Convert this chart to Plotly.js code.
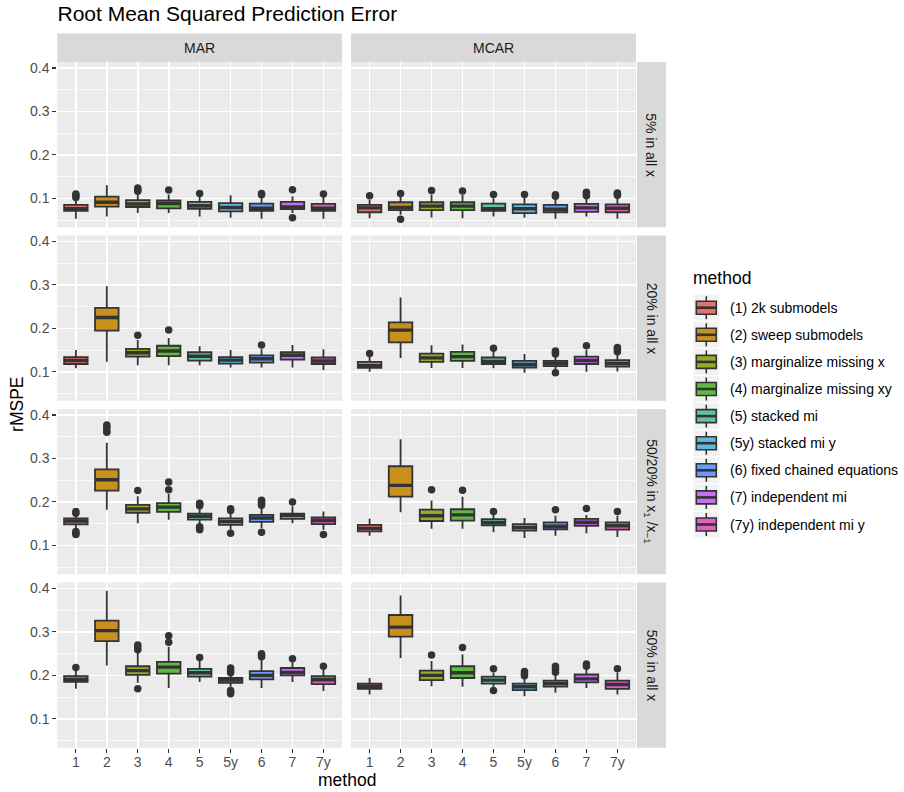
<!DOCTYPE html>
<html>
<head>
<meta charset="utf-8">
<script src="https://cdn.plot.ly/plotly-3.0.1.min.js"></script>
<style>
  html, body { margin: 0; padding: 0; background: #fff; }
  #chart { width: 904px; height: 792px; }
</style>
</head>
<body>
<div id="chart"></div>
<script>
// ---- data -------------------------------------------------------------
const methods = ['1', '2', '3', '4', '5', '5y', '6', '7', '7y'];
const methodNames = [
  '(1) 2k submodels', '(2) sweep submodels', '(3) marginalize missing x',
  '(4) marginalize missing xy', '(5) stacked mi', '(5y) stacked mi y',
  '(6) fixed chained equations', '(7) independent mi', '(7y) independent mi y'
];
const methodColors = ['#E2736C', '#C8901F', '#9AAA28', '#60B942', '#64C2A2',
                      '#5FB9E1', '#6A9AFA', '#C76DF1', '#E261C0'];
const mechanisms = ['MAR', 'MCAR'];
const scenarios = ['5% in all x', '20% in all x',
                   '50/20% in x<sub>1</sub> /x<sub>\u22121</sub>', '50% in all x'];

// Box statistics, one row per panel (scenario x mechanism, row-major:
// 5% MAR, 5% MCAR, 20% MAR, 20% MCAR, 50/20% MAR, 50/20% MCAR, 50% MAR, 50% MCAR),
// one column per method.
const lowerWhisker = [
  [0.053, 0.058, 0.066, 0.066, 0.058, 0.055, 0.053, 0.066, 0.053],
  [0.054, 0.062, 0.056, 0.054, 0.058, 0.055, 0.053, 0.058, 0.053],
  [0.108, 0.123, 0.115, 0.115, 0.115, 0.110, 0.110, 0.110, 0.104],
  [0.100, 0.132, 0.109, 0.109, 0.108, 0.098, 0.105, 0.100, 0.101],
  [0.140, 0.182, 0.151, 0.159, 0.150, 0.136, 0.140, 0.151, 0.136],
  [0.122, 0.176, 0.138, 0.138, 0.130, 0.117, 0.122, 0.128, 0.119],
  [0.169, 0.223, 0.183, 0.171, 0.185, 0.174, 0.171, 0.185, 0.164],
  [0.156, 0.240, 0.175, 0.174, 0.174, 0.152, 0.160, 0.171, 0.156]
];
const quartile1 = [
  [0.071, 0.081, 0.080, 0.077, 0.076, 0.070, 0.071, 0.075, 0.071],
  [0.068, 0.073, 0.073, 0.073, 0.071, 0.066, 0.068, 0.069, 0.068],
  [0.118, 0.195, 0.135, 0.136, 0.126, 0.119, 0.121, 0.128, 0.118],
  [0.109, 0.168, 0.123, 0.125, 0.118, 0.110, 0.113, 0.118, 0.112],
  [0.148, 0.226, 0.175, 0.177, 0.159, 0.147, 0.154, 0.161, 0.149],
  [0.132, 0.212, 0.156, 0.157, 0.146, 0.134, 0.137, 0.145, 0.136],
  [0.185, 0.279, 0.201, 0.204, 0.197, 0.183, 0.191, 0.200, 0.180],
  [0.169, 0.289, 0.189, 0.194, 0.181, 0.166, 0.174, 0.184, 0.169]
];
const medians = [
  [0.076, 0.091, 0.087, 0.088, 0.083, 0.079, 0.077, 0.080, 0.077],
  [0.078, 0.079, 0.082, 0.082, 0.076, 0.076, 0.075, 0.078, 0.077],
  [0.126, 0.225, 0.144, 0.148, 0.136, 0.127, 0.130, 0.138, 0.125],
  [0.114, 0.196, 0.132, 0.135, 0.124, 0.117, 0.119, 0.126, 0.119],
  [0.156, 0.251, 0.184, 0.188, 0.167, 0.155, 0.163, 0.169, 0.157],
  [0.139, 0.238, 0.168, 0.170, 0.152, 0.141, 0.144, 0.153, 0.145],
  [0.190, 0.303, 0.211, 0.219, 0.206, 0.189, 0.200, 0.207, 0.190],
  [0.175, 0.311, 0.200, 0.206, 0.189, 0.174, 0.181, 0.192, 0.179]
];
const quartile3 = [
  [0.085, 0.104, 0.096, 0.095, 0.092, 0.089, 0.088, 0.092, 0.087],
  [0.085, 0.091, 0.091, 0.091, 0.088, 0.086, 0.085, 0.087, 0.086],
  [0.134, 0.247, 0.153, 0.160, 0.145, 0.134, 0.138, 0.145, 0.133],
  [0.123, 0.214, 0.142, 0.146, 0.133, 0.125, 0.125, 0.135, 0.127],
  [0.162, 0.275, 0.193, 0.197, 0.173, 0.162, 0.170, 0.173, 0.164],
  [0.147, 0.282, 0.182, 0.183, 0.160, 0.149, 0.153, 0.161, 0.153],
  [0.198, 0.326, 0.221, 0.231, 0.215, 0.194, 0.210, 0.217, 0.198],
  [0.181, 0.339, 0.211, 0.221, 0.197, 0.181, 0.188, 0.202, 0.188]
];
const upperWhisker = [
  [0.098, 0.130, 0.108, 0.109, 0.104, 0.107, 0.103, 0.105, 0.103],
  [0.097, 0.104, 0.109, 0.108, 0.100, 0.102, 0.100, 0.100, 0.101],
  [0.150, 0.297, 0.173, 0.178, 0.159, 0.150, 0.152, 0.162, 0.152],
  [0.135, 0.271, 0.161, 0.163, 0.146, 0.141, 0.136, 0.150, 0.140],
  [0.170, 0.336, 0.213, 0.218, 0.186, 0.176, 0.186, 0.190, 0.178],
  [0.161, 0.344, 0.203, 0.212, 0.170, 0.163, 0.168, 0.170, 0.168],
  [0.210, 0.395, 0.252, 0.266, 0.233, 0.203, 0.236, 0.230, 0.214],
  [0.194, 0.384, 0.233, 0.248, 0.206, 0.195, 0.200, 0.214, 0.206]
];
const outliers = [
  [[0.102, 0.106, 0.110], [], [0.116, 0.120, 0.124], [0.119], [0.111], [], [0.108, 0.111], [0.120, 0.055], [0.110]],
  [[0.106], [0.111, 0.052], [0.118], [0.117], [0.109], [0.109], [0.105, 0.108], [0.106, 0.110, 0.114], [0.107, 0.110, 0.112]],
  [[], [], [0.184], [0.196], [], [], [0.162], [], []],
  [[0.142], [], [], [], [0.154], [], [0.141, 0.145, 0.148, 0.098], [0.160], [0.146, 0.151, 0.156]],
  [[0.178, 0.174, 0.128, 0.125, 0.132], [0.360, 0.365, 0.372, 0.377], [0.226], [0.228, 0.246],
   [0.191, 0.195, 0.197, 0.136, 0.140, 0.143], [0.180, 0.184, 0.128], [0.192, 0.197, 0.201, 0.204, 0.130], [0.200], [0.125]],
  [[], [], [0.228], [0.227], [0.178], [], [0.182], [0.185], [0.178]],
  [[0.218], [], [0.259, 0.264, 0.270, 0.169], [0.276, 0.291], [0.241],
   [0.206, 0.211, 0.217, 0.158, 0.162, 0.165], [0.243, 0.247, 0.250], [0.238], [0.221]],
  [[], [], [0.247], [0.264], [0.215, 0.165], [0.199, 0.204, 0.209], [0.207, 0.214, 0.221], [0.221, 0.226], [0.215]]
];
const yTicks = [0.1, 0.2, 0.3, 0.4];

// ---- layout geometry (pixels) ----------------------------------------
const W = 904, H = 792;
const px = v => v / W;
const py = v => 1 - v / H;
const colX = [[57.3, 342.0], [351.0, 636.0]];
const rowY = [[62.0, 227.3], [235.5, 400.8], [409.0, 574.3], [582.5, 747.8]];
const stripTop = 33.5, stripRightX = [637.0, 666.0];
const boxWidth = 0.76;
const darkLine = '#333333';
const fontFamily = 'Liberation Sans, Arial, Helvetica, sans-serif';

const traces = [];
const layout = {
  width: W, height: H,
  margin: { l: 0, r: 0, t: 0, b: 0 },
  paper_bgcolor: '#FFFFFF',
  plot_bgcolor: '#EBEBEB',
  showlegend: false,
  font: { family: fontFamily, color: '#000000' },
  title: {
    text: 'Root Mean Squared Prediction Error',
    font: { size: 21, color: '#000000', family: fontFamily },
    x: px(57.5), xanchor: 'left', xref: 'paper',
    y: py(14), yanchor: 'middle', yref: 'container'
  },
  shapes: [],
  annotations: []
};

for (let r = 0; r < 4; r++) {
  for (let c = 0; c < 2; c++) {
    const p = r * 2 + c;
    const n = p + 1;
    const xa = 'x' + (n === 1 ? '' : n);
    const ya = 'y' + (n === 1 ? '' : n);
    const xIdx = methods.map((m, i) => i);

    layout['xaxis' + (n === 1 ? '' : n)] = {
      domain: [px(colX[c][0]), px(colX[c][1])],
      anchor: ya,
      range: [-0.6, methods.length - 0.4],
      tickvals: xIdx,
      ticktext: methods,
      showticklabels: r === 3,
      ticks: r === 3 ? 'outside' : '',
      ticklen: 4, tickwidth: 1.1, tickcolor: darkLine,
      ticklabelstandoff: -3,
      tickfont: { size: 14, color: '#4D4D4D', family: fontFamily },
      showgrid: true, gridcolor: '#FFFFFF', gridwidth: 1.6,
      zeroline: false, showline: false, fixedrange: true
    };
    layout['yaxis' + (n === 1 ? '' : n)] = {
      domain: [py(rowY[r][1]), py(rowY[r][0])],
      anchor: xa,
      range: [0.0333, 0.4138],
      tickvals: yTicks,
      ticktext: yTicks.map(v => v.toFixed(1)),
      showticklabels: c === 0,
      ticks: c === 0 ? 'outside' : '',
      ticklen: 4, tickwidth: 1.1, tickcolor: darkLine,
      tickfont: { size: 14, color: '#4D4D4D', family: fontFamily },
      showgrid: true, gridcolor: '#FFFFFF', gridwidth: 1.6,
      minor: { tickvals: [0.05, 0.15, 0.25, 0.35], showgrid: true, gridcolor: '#FFFFFF', gridwidth: 0.7, ticks: '' },
      zeroline: false, showline: false, fixedrange: true
    };

    // boxes
    methods.forEach((m, i) => {
      traces.push({
        type: 'box', xaxis: xa, yaxis: ya,
        x: [i],
        q1: [quartile1[p][i]], median: [medians[p][i]], q3: [quartile3[p][i]],
        lowerfence: [lowerWhisker[p][i]], upperfence: [upperWhisker[p][i]],
        width: boxWidth, whiskerwidth: 0, boxpoints: false,
        fillcolor: methodColors[i],
        line: { color: darkLine, width: 1.8 },
        name: methodNames[i], showlegend: false, hoverinfo: 'skip'
      });
    });

    // thicker median bars drawn over the boxes
    const mx = [], my = [];
    methods.forEach((m, i) => {
      mx.push(i - boxWidth / 2, i + boxWidth / 2, null);
      my.push(medians[p][i], medians[p][i], null);
    });
    traces.push({
      type: 'scatter', mode: 'lines', xaxis: xa, yaxis: ya,
      x: mx, y: my, line: { color: darkLine, width: 3.4 },
      showlegend: false, hoverinfo: 'skip'
    });

    // outlying points
    const ox = [], oy = [];
    outliers[p].forEach((vals, i) => vals.forEach(v => { ox.push(i); oy.push(v); }));
    traces.push({
      type: 'scatter', mode: 'markers', xaxis: xa, yaxis: ya,
      x: ox, y: oy,
      marker: { color: darkLine, size: 7.5 },
      showlegend: false, hoverinfo: 'skip', cliponaxis: false
    });
  }
}

// facet strips
mechanisms.forEach((label, c) => {
  layout.shapes.push({
    type: 'rect', xref: 'paper', yref: 'paper', layer: 'below',
    x0: px(colX[c][0]), x1: px(colX[c][1]), y0: py(rowY[0][0]), y1: py(stripTop),
    fillcolor: '#D9D9D9', line: { width: 0 }
  });
  layout.annotations.push({
    xref: 'paper', yref: 'paper', showarrow: false,
    x: px((colX[c][0] + colX[c][1]) / 2), y: py((stripTop + rowY[0][0]) / 2),
    xanchor: 'center', yanchor: 'middle',
    text: label, font: { size: 14, color: '#1A1A1A', family: fontFamily }
  });
});
scenarios.forEach((label, r) => {
  layout.shapes.push({
    type: 'rect', xref: 'paper', yref: 'paper', layer: 'below',
    x0: px(stripRightX[0]), x1: px(stripRightX[1]), y0: py(rowY[r][1]), y1: py(rowY[r][0]),
    fillcolor: '#D9D9D9', line: { width: 0 }
  });
  layout.annotations.push({
    xref: 'paper', yref: 'paper', showarrow: false,
    x: px((stripRightX[0] + stripRightX[1]) / 2), y: py((rowY[r][0] + rowY[r][1]) / 2),
    xanchor: 'center', yanchor: 'middle', textangle: 90,
    text: label, font: { size: 14, color: '#1A1A1A', family: fontFamily }
  });
});

// shared axis titles
layout.annotations.push({
  xref: 'paper', yref: 'paper', showarrow: false,
  x: px(17), y: py((rowY[0][0] + rowY[3][1]) / 2), xanchor: 'center', yanchor: 'middle',
  textangle: -90, text: 'rMSPE', font: { size: 17.5, color: '#000000', family: fontFamily }
});
layout.annotations.push({
  xref: 'paper', yref: 'paper', showarrow: false,
  x: px((colX[0][0] + colX[1][1]) / 2), y: py(780), xanchor: 'center', yanchor: 'middle',
  text: 'method', font: { size: 17.5, color: '#000000', family: fontFamily }
});

// legend: key glyphs and labels
layout.annotations.push({
  xref: 'paper', yref: 'paper', showarrow: false,
  x: px(691), y: py(277.5), xanchor: 'left', yanchor: 'middle',
  text: 'method', font: { size: 17.5, color: '#000000', family: fontFamily }
});
methodNames.forEach((name, k) => {
  const yc = 307.7 + 27.1 * k;
  const xc = 706.3;
  layout.shapes.push({
    type: 'rect', xref: 'paper', yref: 'paper', layer: 'above',
    x0: px(693.3), x1: px(719.3), y0: py(yc + 13), y1: py(yc - 13),
    fillcolor: '#F2F2F2', line: { width: 0 }
  });
  layout.shapes.push({
    type: 'line', xref: 'paper', yref: 'paper', layer: 'above',
    x0: px(xc), x1: px(xc), y0: py(yc + 11.5), y1: py(yc - 11.5),
    line: { color: darkLine, width: 1.6 }
  });
  layout.shapes.push({
    type: 'rect', xref: 'paper', yref: 'paper', layer: 'above',
    x0: px(696.3), x1: px(716.3), y0: py(yc + 6.5), y1: py(yc - 6.5),
    fillcolor: methodColors[k], line: { color: darkLine, width: 1.6 }
  });
  layout.shapes.push({
    type: 'line', xref: 'paper', yref: 'paper', layer: 'above',
    x0: px(696.3), x1: px(716.3), y0: py(yc), y1: py(yc),
    line: { color: darkLine, width: 2.6 }
  });
  layout.annotations.push({
    xref: 'paper', yref: 'paper', showarrow: false,
    x: px(728), y: py(yc), xanchor: 'left', yanchor: 'middle',
    text: name, font: { size: 14, color: '#000000', family: fontFamily }
  });
});

Plotly.newPlot('chart', traces, layout, { displayModeBar: false, staticPlot: true });
</script>
</body>
</html>
